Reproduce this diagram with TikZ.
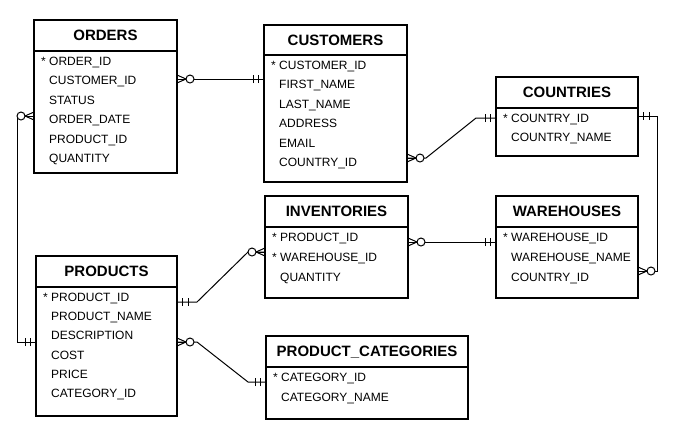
\documentclass[tikz,border=0pt]{standalone}
\usepackage{fontspec}
\setmainfont{Liberation Sans}
\usetikzlibrary{calc}
\tikzset{
  entityBox/.style={draw, line width=2pt, inner sep=0pt, outer sep=0pt, anchor=north west},
  headLine/.style={line width=2pt},
  entityTitle/.style={font=\fontsize{15}{18}\selectfont\bfseries, inner sep=0pt, text height=10.7pt, text depth=0pt},
  entityField/.style={font=\fontsize{12}{14}\selectfont, anchor=west, inner sep=0pt, text height=8.6pt, text depth=0pt},
  relLine/.style={line width=1pt},
  % zero or many (crow's foot + circle), opening towards the entity
  zeroMany/.pic={
    \draw[relLine] (0,-4) -- (9,0) -- (0,4);
    \draw[relLine] (0,0) -- (9,0);
    \draw[relLine, fill=white] (13,0) circle[radius=4];
  },
  % one and only one (two bars)
  oneOne/.pic={
    \draw[relLine] (5.5,-4) -- (5.5,4);
    \draw[relLine] (11,-4) -- (11,4);
  }
}

\begin{document}
\begin{tikzpicture}[x=1pt, y=-1pt]
  \useasboundingbox[fill=white] (0,0) rectangle (677,432);

  %% --- ORDERS ---
  \node[entityBox, minimum width=143pt, minimum height=153pt] (orders) at (34,20) {};
  \draw[headLine] ($(orders.north west)+(0,31)$) -- ($(orders.north east)+(0,31)$);
  \node[entityTitle] (ordersTitle) at ($(orders.north)+(0,15.5)$) {ORDERS};
  \foreach \dx/\fld [count=\i from 0] in {7/{* ORDER\_ID}, 15/CUSTOMER\_ID, 15/STATUS,
      15/ORDER\_DATE, 15/PRODUCT\_ID, 15/QUANTITY}
    \node[entityField] (orders-\i) at ($(orders.north west)+({\dx},{41+19.5*\i})$) {\fld};

  %% --- CUSTOMERS ---
  \node[entityBox, minimum width=143pt, minimum height=157pt] (customers) at (264,25) {};
  \draw[headLine] ($(customers.north west)+(0,30)$) -- ($(customers.north east)+(0,30)$);
  \node[entityTitle] (customersTitle) at ($(customers.north)+(0,15)$) {CUSTOMERS};
  \foreach \dx/\fld [count=\i from 0] in {7/{* CUSTOMER\_ID}, 15/FIRST\_NAME, 15/LAST\_NAME,
      15/ADDRESS, 15/EMAIL, 15/COUNTRY\_ID}
    \node[entityField] (customers-\i) at ($(customers.north west)+({\dx},{40+19.5*\i})$) {\fld};

  %% --- COUNTRIES ---
  \node[entityBox, minimum width=142pt, minimum height=79pt] (countries) at (496,77) {};
  \draw[headLine] ($(countries.north west)+(0,31)$) -- ($(countries.north east)+(0,31)$);
  \node[entityTitle] (countriesTitle) at ($(countries.north)+(0,15.5)$) {COUNTRIES};
  \foreach \dx/\fld [count=\i from 0] in {7/{* COUNTRY\_ID}, 15/COUNTRY\_NAME}
    \node[entityField] (countries-\i) at ($(countries.north west)+({\dx},{41+19.5*\i})$) {\fld};

  %% --- INVENTORIES ---
  \node[entityBox, minimum width=143pt, minimum height=102pt] (inventories) at (265,196) {};
  \draw[headLine] ($(inventories.north west)+(0,31)$) -- ($(inventories.north east)+(0,31)$);
  \node[entityTitle] (inventoriesTitle) at ($(inventories.north)+(0,15.5)$) {INVENTORIES};
  \foreach \dx/\fld [count=\i from 0] in {7/{* PRODUCT\_ID}, 7/{* WAREHOUSE\_ID}, 15/QUANTITY}
    \node[entityField] (inventories-\i) at ($(inventories.north west)+({\dx},{41+20*\i})$) {\fld};

  %% --- WAREHOUSES ---
  \node[entityBox, minimum width=142pt, minimum height=102pt] (warehouses) at (496,196) {};
  \draw[headLine] ($(warehouses.north west)+(0,31)$) -- ($(warehouses.north east)+(0,31)$);
  \node[entityTitle] (warehousesTitle) at ($(warehouses.north)+(0,15.5)$) {WAREHOUSES};
  \foreach \dx/\fld [count=\i from 0] in {7/{* WAREHOUSE\_ID}, 15/WAREHOUSE\_NAME, 15/COUNTRY\_ID}
    \node[entityField] (warehouses-\i) at ($(warehouses.north west)+({\dx},{41+20*\i})$) {\fld};

  %% --- PRODUCTS ---
  \node[entityBox, minimum width=141pt, minimum height=160pt] (products) at (36,256) {};
  \draw[headLine] ($(products.north west)+(0,31)$) -- ($(products.north east)+(0,31)$);
  \node[entityTitle] (productsTitle) at ($(products.north)+(0,15.5)$) {PRODUCTS};
  \foreach \dx/\fld [count=\i from 0] in {7/{* PRODUCT\_ID}, 15/PRODUCT\_NAME, 15/DESCRIPTION,
      15/COST, 15/PRICE, 15/CATEGORY\_ID}
    \node[entityField] (products-\i) at ($(products.north west)+({\dx},{41+19.3*\i})$) {\fld};

  %% --- PRODUCT_CATEGORIES ---
  \node[entityBox, minimum width=202pt, minimum height=83pt] (categories) at (266,336) {};
  \draw[headLine] ($(categories.north west)+(0,31)$) -- ($(categories.north east)+(0,31)$);
  \node[entityTitle] (categoriesTitle) at ($(categories.north)+(0,15.5)$) {PRODUCT\_CATEGORIES};
  \foreach \dx/\fld [count=\i from 0] in {7/{* CATEGORY\_ID}, 15/CATEGORY\_NAME}
    \node[entityField] (categories-\i) at ($(categories.north west)+({\dx},{41+20*\i})$) {\fld};

  %% --- RELATIONSHIPS ---
  % end points on the entity borders
  \coordinate (ordCust)  at ($(orders.north east)+(0,59)$);
  \coordinate (custOrd)  at ($(customers.north west)+(0,54)$);
  \coordinate (ordProd)  at ($(orders.north west)+(0,96)$);
  \coordinate (prodOrd)  at ($(products.north west)+(0,86)$);
  \coordinate (custCtry) at ($(customers.north east)+(0,133)$);
  \coordinate (ctryCust) at ($(countries.north west)+(0,41)$);
  \coordinate (ctryWh)   at ($(countries.north east)+(0,39)$);
  \coordinate (whCtry)   at ($(warehouses.north east)+(0,75)$);
  \coordinate (invWh)    at ($(inventories.north east)+(0,46)$);
  \coordinate (whInv)    at ($(warehouses.north west)+(0,46)$);
  \coordinate (prodInv)  at ($(products.north east)+(0,46)$);
  \coordinate (invProd)  at ($(inventories.north west)+(0,56)$);
  \coordinate (prodCat)  at ($(products.north east)+(0,86)$);
  \coordinate (catProd)  at ($(categories.north west)+(0,46)$);

  % lines
  \draw[relLine] (ordCust) -- (custOrd);
  \draw[relLine] (ordProd) -- ++(-17,0) |- (prodOrd);
  \draw[relLine] (custCtry) -- ++(19,0) -- ($(ctryCust)+(-20,0)$) -- (ctryCust);
  \draw[relLine] (ctryWh) -- ++(19,0) |- (whCtry);
  \draw[relLine] (invWh) -- (whInv);
  \draw[relLine] (prodInv) -- ++(20,0) -- ($(invProd)+(-17,0)$) -- (invProd);
  \draw[relLine] (prodCat) -- ++(20,0) -- ($(catProd)+(-18,0)$) -- (catProd);

  % cardinality marks
  \path (ordCust) pic{zeroMany} (custOrd) pic[rotate=180]{oneOne};
  \path (ordProd) pic[rotate=180]{zeroMany} (prodOrd) pic[rotate=180]{oneOne};
  \path (custCtry) pic{zeroMany} (ctryCust) pic[rotate=180]{oneOne};
  \path (ctryWh) pic{oneOne} (whCtry) pic{zeroMany};
  \path (invWh) pic{zeroMany} (whInv) pic[rotate=180]{oneOne};
  \path (prodInv) pic{oneOne} (invProd) pic[rotate=180]{zeroMany};
  \path (prodCat) pic{zeroMany} (catProd) pic[rotate=180]{oneOne};
\end{tikzpicture}
\end{document}
